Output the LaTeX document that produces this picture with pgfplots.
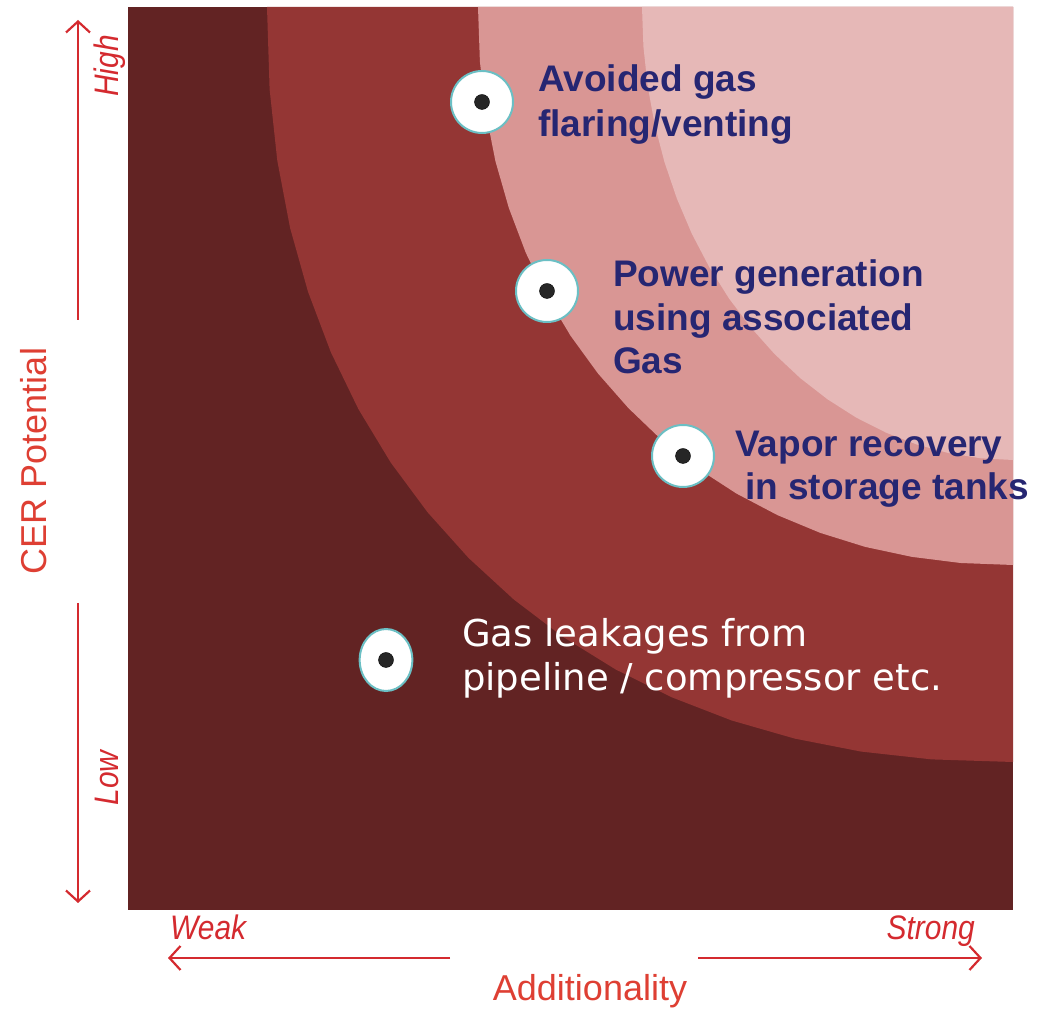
\documentclass[border=0pt]{standalone}
\usepackage{fontspec}
\setmainfont{Liberation Sans}
\newfontfamily\dejavu{DejaVu Sans}
\newfontfamily\narrowfont[FakeStretch=0.88]{Liberation Sans}
\usepackage{pgfplots}
\pgfplotsset{compat=1.18}
\usetikzlibrary{arrows.meta}
\definecolor{cDark}{HTML}{622323}
\definecolor{cMid}{HTML}{943634}
\definecolor{cLight}{HTML}{D99694}
\definecolor{cPale}{HTML}{E6B8B7}
\definecolor{navy}{HTML}{262672}
\definecolor{redlab}{HTML}{D42A2F}
\definecolor{redlabB}{HTML}{DE3F33}
\definecolor{tealb}{HTML}{6BBFC4}
\begin{document}
\begin{tikzpicture}[x=1pt,y=1pt]
\path[use as bounding box] (0,0) rectangle (1043,1011);
\begin{axis}[at={(128pt,101pt)}, anchor=south west, scale only axis,
  width=885pt, height=903pt, xmin=0, xmax=885, ymin=0, ymax=903, hide axis]
% background zone (weak additionality / low potential)
\addplot[fill=cDark, draw=none] coordinates {(0,0) (885,0) (885,903) (0,903)} -- cycle;
% zone boundaries
\addplot[fill=cMid, draw=none] coordinates {(885,903) (139,903) (141.6,820.8) (149.3,749.3) (162.1,682.0) (180.0,618.3) (202.8,557.9) (230.4,500.9) (262.7,447.5) (299.5,397.8) (340.6,352.0) (385.8,310.5) (434.9,273.2) (487.7,240.5) (544.0,212.6) (603.7,189.5) (666.7,171.4) (733.1,158.4) (803.8,150.6) (885,148)} -- cycle;
\addplot[fill=cLight, draw=none] coordinates {(885,903) (350,903) (351.9,848.3) (357.8,797.6) (367.4,748.9) (380.8,702.1) (397.8,657.2) (418.4,614.6) (442.5,574.3) (469.9,536.6) (500.4,501.9) (533.7,470.0) (569.8,441.5) (608.5,416.4) (649.4,394.9) (692.3,377.1) (737.2,363.1) (784.0,353.1) (832.6,347.0) (885,345)} -- cycle;
\addplot[fill=cPale, draw=none] coordinates {(885,903) (514,903) (515.4,863.5) (519.6,824.3) (526.6,785.8) (536.4,748.1) (548.8,711.6) (563.7,676.5) (581.1,643.2) (600.8,611.8) (622.7,582.7) (646.5,556.0) (672.2,531.9) (699.5,510.7) (728.2,492.4) (758.1,477.3) (789.0,465.4) (820.6,456.9) (852.7,451.7) (885,450)} -- cycle;
% project markers
\addplot[only marks, mark=*, mark size=31pt, mark options={fill=white, draw=tealb, line width=2pt}] coordinates {(354,808) (419,619) (555,454)};
\addplot[only marks, mark=*, mark size=31pt, mark options={fill=white, draw=tealb, line width=2pt, xscale=0.85}] coordinates {(258,250)};
\addplot[only marks, mark=*, mark size=7.5pt, mark options={fill=black!85, draw=none}] coordinates {(354,808) (419,619) (555,454) (258,250)};
\end{axis}
% project labels
\begin{scope}[every node/.style={inner sep=0pt, anchor=base west}]
\node[font={\fontsize{37}{37}\selectfont\bfseries}, text=navy] at (538,919) {Avoided gas};
\node[font={\fontsize{37}{37}\selectfont\bfseries}, text=navy] at (538,874) {flaring/venting};
\node[font={\fontsize{37}{37}\selectfont\bfseries}, text=navy] at (613,724) {Power generation};
\node[font={\fontsize{37}{37}\selectfont\bfseries}, text=navy] at (613,680) {using associated};
\node[font={\fontsize{37}{37}\selectfont\bfseries}, text=navy] at (613,637) {Gas};
\node[font={\fontsize{37}{37}\selectfont\bfseries}, text=navy] at (735,554) {Vapor recovery};
\node[font={\fontsize{37}{37}\selectfont\bfseries}, text=navy] at (745,511) {in storage tanks};
\node[font={\dejavu\fontsize{37}{37}\selectfont}, text=white] at (462,364) {Gas leakages from};
\node[font={\dejavu\fontsize{37}{37}\selectfont}, text=white] at (462,320) {pipeline / compressor etc.};
\end{scope}
% axis descriptions
\node[rotate=90, anchor=base, inner sep=0pt, font={\fontsize{36}{36}\selectfont}, text=redlabB] at (46,550) {CER Potential};
\node[anchor=base, inner sep=0pt, font={\fontsize{36}{36}\selectfont}, text=redlabB] at (590,10) {Additionality};
\node[anchor=base west, inner sep=0pt, font={\narrowfont\itshape\fontsize{34}{34}\selectfont}, text=redlab] at (170,71) {Weak};
\node[anchor=base east, inner sep=0pt, font={\narrowfont\itshape\fontsize{34}{34}\selectfont}, text=redlab] at (975,71) {Strong};
\node[rotate=90, anchor=base, inner sep=0pt, font={\narrowfont\itshape\fontsize{34}{34}\selectfont}, text=redlab] at (118,945) {High};
\node[rotate=90, anchor=base, inner sep=0pt, font={\narrowfont\itshape\fontsize{34}{34}\selectfont}, text=redlab] at (118,233) {Low};
\begin{scope}[redlab, line width=2.2pt, arrows={-{Straight Barb[length=11pt,width=24pt]}}]
\draw (78,691) -- (78,991);
\draw (78,408) -- (78,108);
\draw (450,53) -- (168,53);
\draw (698,53) -- (982,53);
\end{scope}
\end{tikzpicture}
\end{document}
